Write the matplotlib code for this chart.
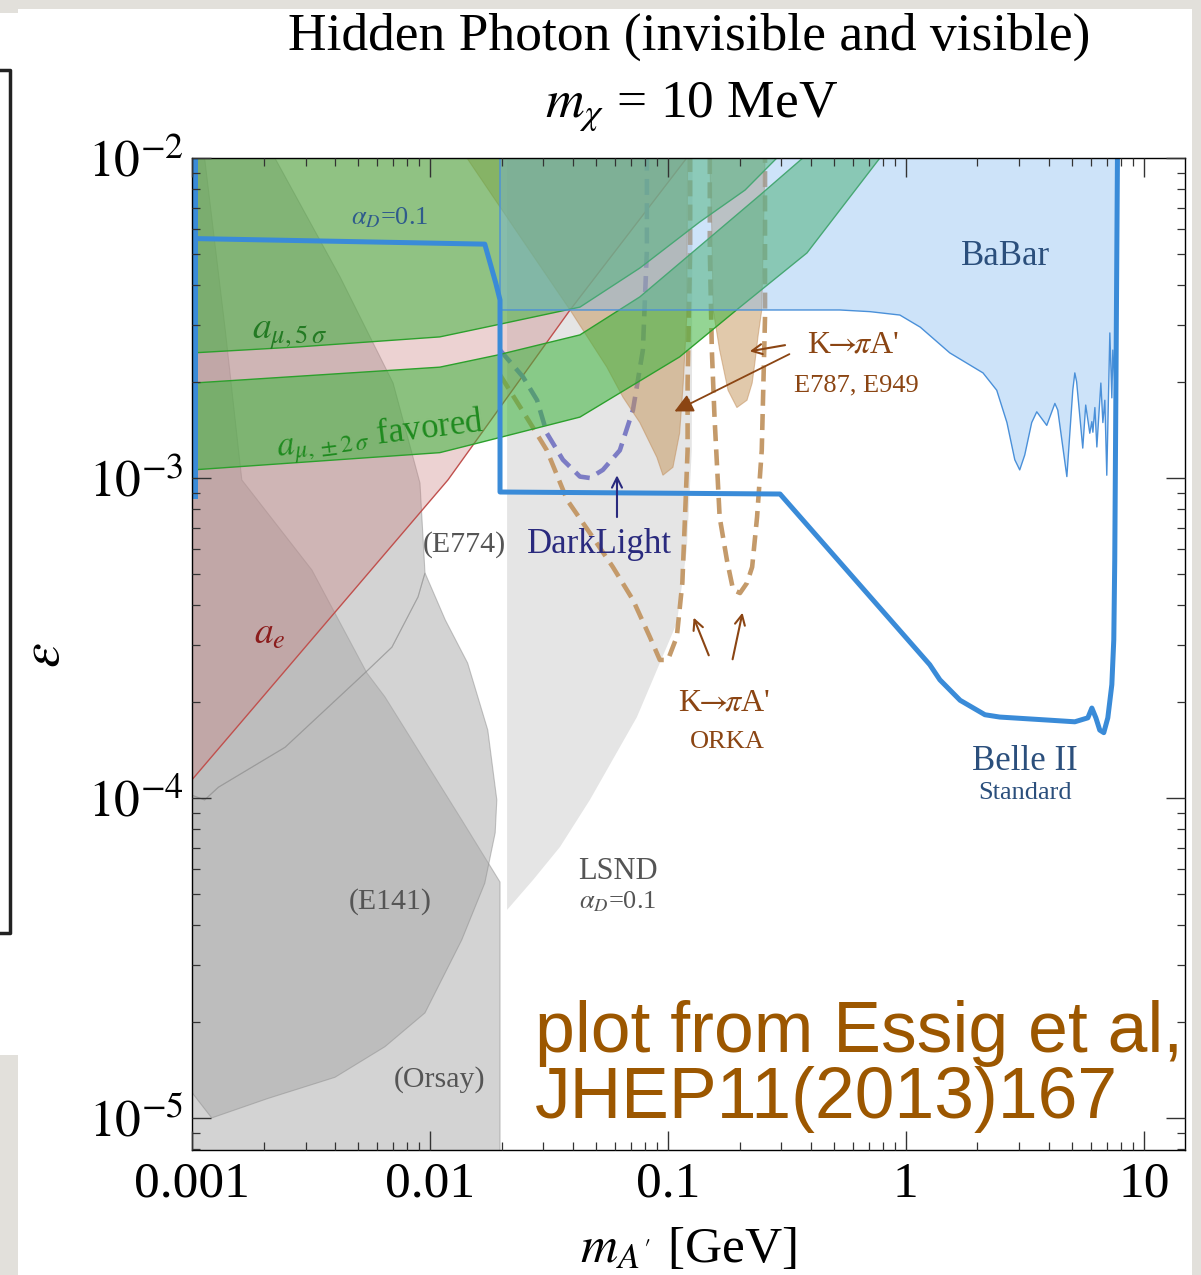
import matplotlib
matplotlib.use("Agg")
import matplotlib.pyplot as plt
from matplotlib.lines import Line2D
from matplotlib.patches import Rectangle
from matplotlib.ticker import FixedLocator, LogLocator, NullFormatter

plt.rcParams["font.family"] = ["Liberation Serif", "DejaVu Serif"]
plt.rcParams["mathtext.fontset"] = "stix"

W, H = 1201, 1275
XLIM = (1e-3, 14.9)
YLIM = (7.94e-6, 1e-2)

# ---- values: dark photon mass m_A' [GeV] and epsilon ----
lsnd_m = [0.0211, 0.0211, 0.0271, 0.0352, 0.0470, 0.0741, 0.0925, 0.109, 0.120, 0.126, 0.127]
lsnd_eps = [1e-2, 4.47e-5, 5.54e-5, 7.03e-5, 9.86e-5, 1.79e-4, 2.64e-4, 3.52e-4, 5.95e-4, 1.22e-3, 1e-2]

orsay_m = [0.001, 0.0197, 0.0197, 0.0136, 0.00647, 0.00543, 0.00319, 0.00162, 0.00138, 0.00113, 0.001]
orsay_eps = [7.9e-6, 7.9e-6, 5.46e-5, 8.54e-5, 2.07e-4, 2.46e-4, 5.16e-4, 9.86e-4, 2.90e-3, 1e-2, 1e-2]

e141_m = [0.001, 0.00121, 0.00208, 0.00399, 0.00647, 0.00953, 0.0136, 0.0170, 0.0188, 0.0191,
          0.0175, 0.0144, 0.0116, 0.00953, 0.00891, 0.00692, 0.00533, 0.00246, 0.00129, 0.00113, 0.001]
e141_eps = [1.20e-5, 1.0e-5, 1.15e-5, 1.34e-5, 1.67e-5, 2.13e-5, 3.60e-5, 5.42e-5, 7.78e-5, 9.86e-5,
            1.63e-4, 2.64e-4, 3.60e-4, 5.05e-4, 4.25e-4, 2.96e-4, 2.46e-4, 1.44e-4, 1.08e-4, 9.86e-5, 1.02e-4]

e774_m = [0.001, 0.001, 0.00223, 0.00419, 0.00700, 0.00908, 0.00953, 0.00891, 0.00692, 0.00533,
          0.00246, 0.00129, 0.00113]
e774_eps = [1.02e-4, 1e-2, 1e-2, 4.25e-3, 1.98e-3, 9.64e-4, 5.05e-4, 4.25e-4, 2.96e-4, 2.46e-4,
            1.44e-4, 1.08e-4, 9.86e-5]

ae_m = [0.001, 0.0119, 0.0388, 0.120, 0.001]
ae_eps = [1.14e-4, 9.86e-4, 3.35e-3, 1e-2, 1e-2]

amu5_m = [0.00101, 0.00284, 0.0110, 0.0191, 0.0427, 0.0762, 0.136, 0.211, 0.287]
amu5_eps = [2.46e-3, 2.57e-3, 2.76e-3, 3.01e-3, 3.42e-3, 4.53e-3, 6.31e-3, 7.94e-3, 1e-2]

amu2_up_m = [0.00101, 0.0110, 0.0191, 0.0427, 0.0762, 0.146, 0.244, 0.369]
amu2_up_eps = [1.98e-3, 2.22e-3, 2.42e-3, 2.80e-3, 3.68e-3, 5.54e-3, 7.66e-3, 1e-2]
amu2_lo_m = [0.00101, 0.0110, 0.0162, 0.0427, 0.112, 0.201, 0.384, 0.778]
amu2_lo_eps = [1.06e-3, 1.20e-3, 1.29e-3, 1.55e-3, 2.39e-3, 3.42e-3, 5.05e-3, 1e-2]

k1_m = [0.0143, 0.0197, 0.0388, 0.0554, 0.0647, 0.0762, 0.0899, 0.0953, 0.105, 0.112, 0.116, 0.120, 0.121]
k1_eps = [1e-2, 7.03e-3, 3.35e-3, 2.22e-3, 1.79e-3, 1.49e-3, 1.16e-3, 1.02e-3, 1.08e-3, 1.38e-3,
          1.98e-3, 3.19e-3, 1e-2]
k2_m = [0.150, 0.153, 0.155, 0.165, 0.179, 0.195, 0.215, 0.226, 0.232, 0.239, 0.248, 0.256]
k2_eps = [1e-2, 5.83e-3, 3.35e-3, 2.51e-3, 1.88e-3, 1.66e-3, 1.75e-3, 1.98e-3, 2.29e-3, 2.76e-3, 3.35e-3, 1e-2]

babar_m = [0.0197, 0.0197, 0.528, 0.707, 0.944, 1.15, 1.53, 2.11, 2.41, 2.66, 2.87, 3.01, 3.16, 3.38,
           3.55, 3.91, 4.23, 4.35, 4.75, 5.03, 5.13, 5.22, 5.54, 5.70, 5.93, 6.05, 6.11, 6.23, 6.35,
           6.60, 6.73, 6.86, 6.99, 7.20, 7.34, 7.41, 7.63, 7.70, 7.70]
babar_eps = [1e-2, 3.35e-3, 3.35e-3, 3.31e-3, 3.23e-3, 2.96e-3, 2.46e-3, 2.13e-3, 1.88e-3, 1.49e-3,
             1.14e-3, 1.06e-3, 1.18e-3, 1.49e-3, 1.61e-3, 1.46e-3, 1.71e-3, 1.63e-3, 1.01e-3, 1.88e-3,
             2.13e-3, 2.0e-3, 1.24e-3, 1.69e-3, 1.38e-3, 1.50e-3, 1.39e-3, 1.66e-3, 1.25e-3, 1.98e-3,
             1.49e-3, 1.75e-3, 1.02e-3, 2.84e-3, 1.78e-3, 2.51e-3, 1.75e-3, 5.16e-3, 1e-2]

orka1_m = [0.0197, 0.0263, 0.0310, 0.0377, 0.0470, 0.0587, 0.0713, 0.0839, 0.0925, 0.100, 0.109,
           0.115, 0.118, 0.121, 0.121, 0.124, 0.124]
orka1_eps = [2.10e-3, 1.49e-3, 1.22e-3, 8.54e-4, 6.73e-4, 5.27e-4, 4.16e-4, 3.19e-4, 2.70e-4, 2.70e-4,
             3.19e-4, 4.70e-4, 7.55e-4, 1.22e-3, 1.98e-3, 5.16e-3, 1e-2]
orka2_m = [0.150, 0.150, 0.153, 0.157, 0.162, 0.165, 0.177, 0.188, 0.201, 0.215, 0.226, 0.237, 0.248,
           0.256, 0.256]
orka2_eps = [1e-2, 5.16e-3, 2.51e-3, 1.55e-3, 9.86e-4, 7.55e-4, 5.54e-4, 4.47e-4, 4.37e-4, 4.70e-4,
             5.27e-4, 7.55e-4, 1.22e-3, 3.19e-3, 1e-2]

darklight_m = [0.0197, 0.0246, 0.0282, 0.0310, 0.0362, 0.0427, 0.0470, 0.0533, 0.0628, 0.0713,
               0.0785, 0.0816, 0.0816]
darklight_eps = [2.51e-3, 2.07e-3, 1.75e-3, 1.38e-3, 1.14e-3, 1.01e-3, 1.0e-3, 1.06e-3, 1.22e-3,
                 1.63e-3, 2.51e-3, 5.16e-3, 1e-2]

belle_m = [0.00103, 0.0170, 0.0189, 0.0197, 0.0197, 0.296, 1.26, 1.39, 1.69, 2.15, 2.48, 4.03, 5.13,
           5.82, 6.05, 6.29, 6.53, 6.79, 7.06, 7.34, 7.48, 7.55, 7.63, 7.75]
belle_eps = [5.6e-3, 5.38e-3, 4.07e-3, 3.6e-3, 9.04e-4, 8.91e-4, 2.61e-4, 2.34e-4, 2.02e-4, 1.82e-4,
             1.79e-4, 1.75e-4, 1.73e-4, 1.78e-4, 1.91e-4, 1.78e-4, 1.63e-4, 1.60e-4, 1.78e-4, 2.26e-4,
             3.12e-4, 5.54e-4, 1.75e-3, 1e-2]
belle_edge_m = [0.00103, 0.00103]
belle_edge_eps = [1e-2, 8.8e-4]

x_ticks = [0.001, 0.01, 0.1, 1, 10]
x_ticklabels = ["0.001", "0.01", "0.1", "1", "10"]
y_ticks = [1e-5, 1e-4, 1e-3, 1e-2]
y_ticklabels = [r"$10^{-5}$", r"$10^{-4}$", r"$10^{-3}$", r"$10^{-2}$"]

GRAY = "#a7a7a7"
GREEN = "#3cb43c"
BROWN = "#8b4513"
NAVY = "#2b4f7c"
KPI = r"K$\!\!\rightarrow\!\!\pi$A'"


def fy(py):
    return 1 - py / H


fig = plt.figure(figsize=(W / 100, H / 100), dpi=100)
fig.patch.set_facecolor("#e2e0db")
fig.add_artist(Rectangle((18 / W, 0), 1174 / W, fy(9), transform=fig.transFigure,
                         fc="white", ec="none", zorder=0))
fig.add_artist(Rectangle((0, fy(1055)), 18 / W, (1055 - 13) / H, transform=fig.transFigure,
                         fc="white", ec="none", zorder=0))
fig.add_artist(Line2D([0, 10 / W, 10 / W, 0], [fy(70), fy(70), fy(933), fy(933)],
                      transform=fig.transFigure, color="#222222", lw=2.5))

ax = fig.add_axes([192 / W, fy(1150), (1185 - 192) / W, (1150 - 158) / H])
ax.set_xscale("log")
ax.set_yscale("log")
ax.set_xlim(*XLIM)
ax.set_ylim(*YLIM)

# gray beam-dump / LSND regions
ax.fill(lsnd_m, lsnd_eps, fc="#e5e5e5", ec="none", zorder=1)
for m, e in [(orsay_m, orsay_eps), (e141_m, e141_eps), (e774_m, e774_eps)]:
    ax.fill(m, e, fc=GRAY, alpha=0.49, ec="#8c8c8c", lw=0.8, zorder=2)

# a_e
ax.fill(ae_m, ae_eps, fc="#c97f7f", alpha=0.35, ec="none", zorder=3)
ax.plot(ae_m[:4], ae_eps[:4], color="#c0504d", lw=1, zorder=3)

# projected reaches (dashed)
dash = (0, (3.5, 1.8))
ax.plot(orka1_m, orka1_eps, color="#c49a6a", lw=3.3, ls=dash, zorder=4)
ax.plot(orka2_m, orka2_eps, color="#c49a6a", lw=3.3, ls=dash, zorder=4)
ax.plot(darklight_m, darklight_eps, color="#7c7cc4", lw=3.3, ls=dash, zorder=4)

# K -> pi A' (E787, E949)
for m, e in [(k1_m, k1_eps), (k2_m, k2_eps)]:
    ax.fill(m, e, fc="#c59559", alpha=0.5, ec="#c08a55", lw=0.8, zorder=4.5)

# a_mu bands
ax.fill(amu5_m + [0.001], amu5_eps + [1e-2], fc=GREEN, alpha=0.52, ec="none", zorder=5)
ax.plot(amu5_m, amu5_eps, color="#2ca02c", lw=1, zorder=5)
ax.fill(amu2_up_m + amu2_lo_m[::-1], amu2_up_eps + amu2_lo_eps[::-1], fc=GREEN, alpha=0.55,
        ec="none", zorder=5)
ax.plot(amu2_up_m, amu2_up_eps, color="#2ca02c", lw=1, zorder=5)
ax.plot(amu2_lo_m, amu2_lo_eps, color="#2ca02c", lw=1, zorder=5)

# BaBar
ax.fill(babar_m, babar_eps, fc="#78b4f0", alpha=0.37, ec="none", zorder=6)
ax.plot(babar_m, babar_eps, color="#4a90d9", lw=1, zorder=6)

# Belle II
ax.plot(belle_m, belle_eps, color="#3a8bd8", lw=3.6, zorder=8, solid_joinstyle="round")
ax.plot(belle_edge_m, belle_edge_eps, color="#3a8bd8", lw=3.6, zorder=8)

# labels inside the plot
tk = dict(zorder=9, ha="center", va="center")
ax.text(0.00679, 6.49e-3, r"$\alpha_D$=0.1", color="#2f5b8c", fontsize=19, **tk)
ax.text(2.63, 4.91e-3, "BaBar", color=NAVY, fontsize=25, **tk)
ax.text(0.00258, 2.80e-3, r"$a_{\mu,5\,\sigma}$", color="#237a23", fontsize=27, **tk)
ax.text(0.00617, 1.36e-3, r"$a_{\mu,\pm 2\,\sigma}$ favored", color="#1f8a1f", fontsize=25,
        rotation=7, **tk)
ax.text(0.00213, 3.23e-4, r"$a_e$", color="#8b1c1c", fontsize=27, **tk)
ax.text(0.0140, 6.18e-4, "(E774)", color="#555555", fontsize=21.5, **tk)
ax.text(0.00679, 4.73e-5, "(E141)", color="#555555", fontsize=21.5, **tk)
ax.text(0.0110, 1.32e-5, "(Orsay)", color="#555555", fontsize=21.5, **tk)
ax.text(0.0518, 6.18e-4, "DarkLight", color="#2a2a7e", fontsize=25, **tk)
ax.text(0.0617, 5.87e-5, "LSND", color="#555555", fontsize=22, **tk)
ax.text(0.0617, 4.73e-5, r"$\alpha_D$=0.1", color="#555555", fontsize=19, **tk)
ax.text(0.598, 2.61e-3, KPI, color=BROWN, fontsize=23, **tk)
ax.text(0.622, 1.94e-3, "E787, E949", color=BROWN, fontsize=19, **tk)
ax.text(0.173, 1.98e-4, KPI, color=BROWN, fontsize=23, **tk)
ax.text(0.177, 1.50e-4, "ORKA", color=BROWN, fontsize=19, **tk)
ax.text(3.16, 1.30e-4, "Belle II", color=NAVY, fontsize=25, **tk)
ax.text(3.16, 1.04e-4, "Standard", color=NAVY, fontsize=19, **tk)

arr = dict(arrowstyle="->", color=BROWN, lw=1.5, mutation_scale=18)
ax.annotate("", xy=(0.0611, 1.04e-3), xytext=(0.0611, 7.4e-4),
            arrowprops=dict(arr, color="#2a2a7e"), zorder=9)
ax.annotate("", xy=(0.215, 2.48e-3), xytext=(0.319, 2.61e-3), arrowprops=arr, zorder=9)
ax.annotate("", xy=(0.104, 1.60e-3), xytext=(0.332, 2.46e-3),
            arrowprops=dict(arrowstyle="-|>", color=BROWN, lw=1.3, mutation_scale=28), zorder=9)
ax.annotate("", xy=(0.127, 3.73e-4), xytext=(0.150, 2.74e-4), arrowprops=arr, zorder=9)
ax.annotate("", xy=(0.207, 3.87e-4), xytext=(0.186, 2.66e-4), arrowprops=arr, zorder=9)

# axes, ticks
ax.xaxis.set_major_locator(FixedLocator(x_ticks))
ax.xaxis.set_minor_locator(LogLocator(base=10, subs=range(2, 10)))
ax.xaxis.set_minor_formatter(NullFormatter())
ax.set_xticklabels(x_ticklabels)
ax.yaxis.set_major_locator(FixedLocator(y_ticks))
ax.yaxis.set_minor_locator(LogLocator(base=10, subs=range(2, 10)))
ax.yaxis.set_minor_formatter(NullFormatter())
ax.set_yticklabels(y_ticklabels)
ax.tick_params(which="both", direction="in", top=True, right=True, color="#333333", labelsize=37)
ax.tick_params(which="major", length=14, width=1)
ax.tick_params(which="minor", length=6, width=0.9)
ax.tick_params(axis="x", pad=8)
ax.tick_params(axis="y", pad=6)
ax.xaxis.set_zorder(20)
ax.yaxis.set_zorder(20)
for sp in ax.spines.values():
    sp.set_zorder(20)
    sp.set_linewidth(1)

fig.text(689 / W, fy(50), "Hidden Photon (invisible and visible)", ha="center", va="baseline",
         fontsize=38.5)
fig.text(692 / W, fy(117), r"$m_\chi$ = 10 MeV", ha="center", va="baseline", fontsize=38.5)
fig.text(688 / W, fy(1262), r"$m_{A'}$ [GeV]", ha="center", va="baseline", fontsize=37)
fig.text(45 / W, fy(655), r"$\varepsilon$", rotation=90, ha="center", va="center", fontsize=40)

essig = dict(family=["Liberation Sans", "DejaVu Sans"], color="#9c5700", fontsize=51.5,
             ha="left", va="baseline", zorder=30)
fig.text(535 / W, fy(1052), "plot from Essig et al,", **essig)
fig.text(535 / W, fy(1118), "JHEP11(2013)167", **essig)

fig.savefig("out.png", dpi=100, facecolor=fig.get_facecolor())
